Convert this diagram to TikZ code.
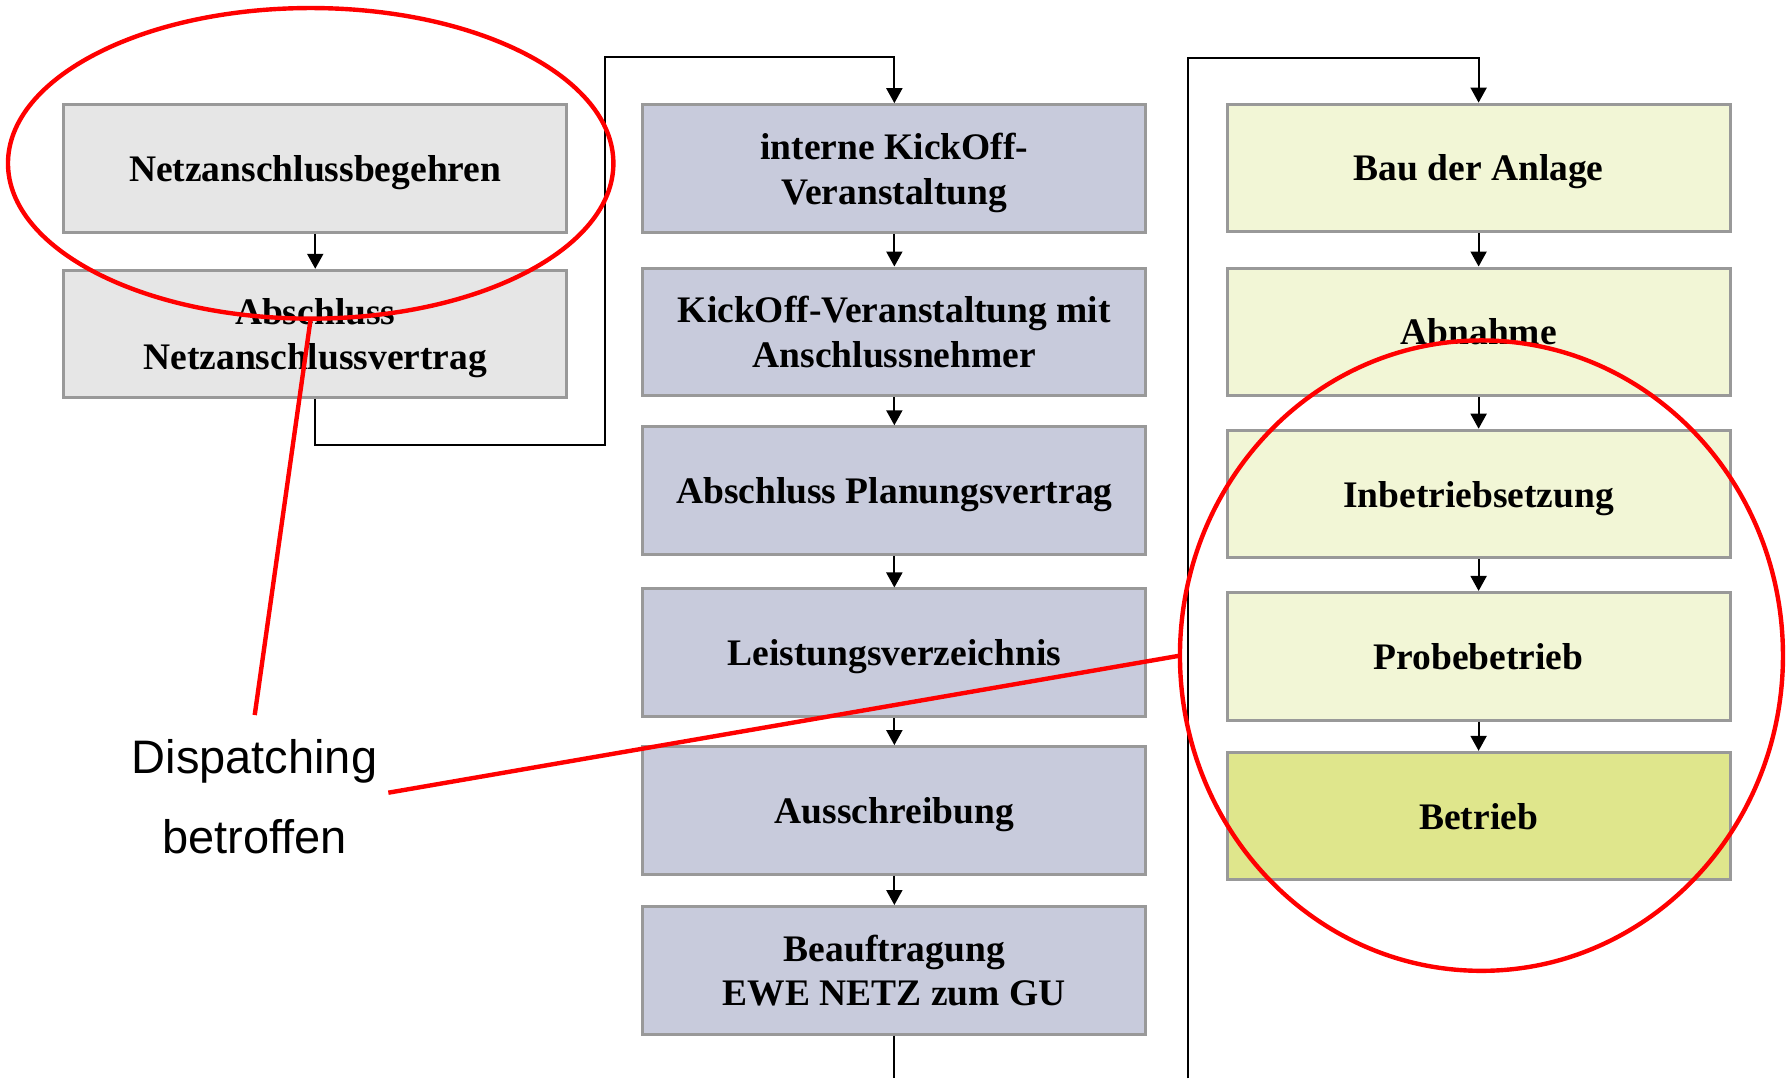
\documentclass[tikz,border=0pt]{standalone}
\usepackage{fontspec}
\setmainfont{Liberation Serif}
\newfontfamily\labelfont{Liberation Sans}
\usetikzlibrary{arrows.meta,shapes.geometric}
\definecolor{grayfill}{HTML}{E6E6E6}
\definecolor{bluefill}{HTML}{C8CBDC}
\definecolor{yellowfill}{HTML}{F2F6D6}
\definecolor{greenfill}{HTML}{DFE68C}
\definecolor{boxborder}{HTML}{999999}
\definecolor{markred}{HTML}{FF0000}
\begin{document}
\begin{tikzpicture}[x=0.5711pt, y=-0.5711pt,
  box/.style={draw=boxborder, line width=1.5pt, minimum width=251.5pt, minimum height=63.8pt,
    inner sep=0pt, text depth=0pt, align=center, font=\fontsize{18.75pt}{22.35pt}\selectfont\bfseries},
  conn/.style={draw=black, line width=1pt},
  arr/.style={conn, -{Triangle[length=7.5pt,width=8pt]}},
  redmark/.style={draw=markred, line width=2.2pt},
  redell/.style={redmark, ellipse, inner sep=0pt, outer sep=0pt},
  lbl/.style={font=\labelfont\fontsize{23.5pt}{28pt}\selectfont, inner sep=0pt, anchor=base}
]
\useasboundingbox (0,0) rectangle (1568,944);

% column 1
\node[box, fill=grayfill] (a1) at (276,147.5) {Netzanschlussbegehren};
\node[box, fill=grayfill] (a2) at (276,292.5) {Abschluss\\Netzanschlussvertrag};

% column 2
\node[box, fill=bluefill] (k1) at (783,147.5) {interne KickOff-\\Veranstaltung};
\node[box, fill=bluefill] (k2) at (783,290.5) {KickOff-Veranstaltung mit\\Anschlussnehmer};
\node[box, fill=bluefill] (k3) at (783,429.5) {Abschluss Planungsvertrag};
\node[box, fill=bluefill] (k4) at (783,571.5) {Leistungsverzeichnis};
\node[box, fill=bluefill] (k5) at (783,709.5) {Ausschreibung};
\node[box, fill=bluefill] (k6) at (783,849.5) {Beauftragung\\EWE NETZ zum GU};

% column 3
\node[box, fill=yellowfill] (b1) at (1294.5,147) {Bau der Anlage};
\node[box, fill=yellowfill] (b2) at (1294.5,290.5) {Abnahme};
\node[box, fill=yellowfill] (b3) at (1294.5,432.5) {Inbetriebsetzung};
\node[box, fill=yellowfill] (b4) at (1294.5,574.5) {Probebetrieb};
\node[box, fill=greenfill] (b5) at (1294.5,714.5) {Betrieb};

% connector corner points
\coordinate (c1) at (530,390);
\coordinate (c2) at (530,49.5);
\coordinate (c3) at (783,944);
\coordinate (c4) at (1040,944);
\coordinate (c5) at (1040,51);

\draw[arr] (a1.south) -- (a2.north);
\draw[arr] (a2.south) |- (c1) -- (c2) -| (k1.north);
\draw[arr] (k1.south) -- (k2.north);
\draw[arr] (k2.south) -- (k3.north);
\draw[arr] (k3.south) -- (k4.north);
\draw[arr] (k4.south) -- (k5.north);
\draw[arr] (k5.south) -- (k6.north);
\draw[conn] (k6.south) -- (c3);
\draw[arr] (c4) -- (c5) -| (b1.north);
\draw[arr] (b1.south) -- (b2.north);
\draw[arr] (b2.south) -- (b3.north);
\draw[arr] (b3.south) -- (b4.north);
\draw[arr] (b4.south) -- (b5.north);

% labels
\node[lbl] (d1) at (222.8,677.6) {Dispatching};
\node[lbl] (d2) at (222.8,747) {betroffen};

% red markings
\node[redell, minimum width=302.7pt, minimum height=155.3pt] (e1) at (272,143) {};
\node[redell, minimum width=301.5pt, minimum height=315.2pt] (e2) at (1297,574) {};
\coordinate (p1) at (223,626);
\coordinate (p2) at (340,694);
\draw[redmark] (e1.south) -- (p1);
\draw[redmark] (p2) -- (e2.west);
\end{tikzpicture}
\end{document}
